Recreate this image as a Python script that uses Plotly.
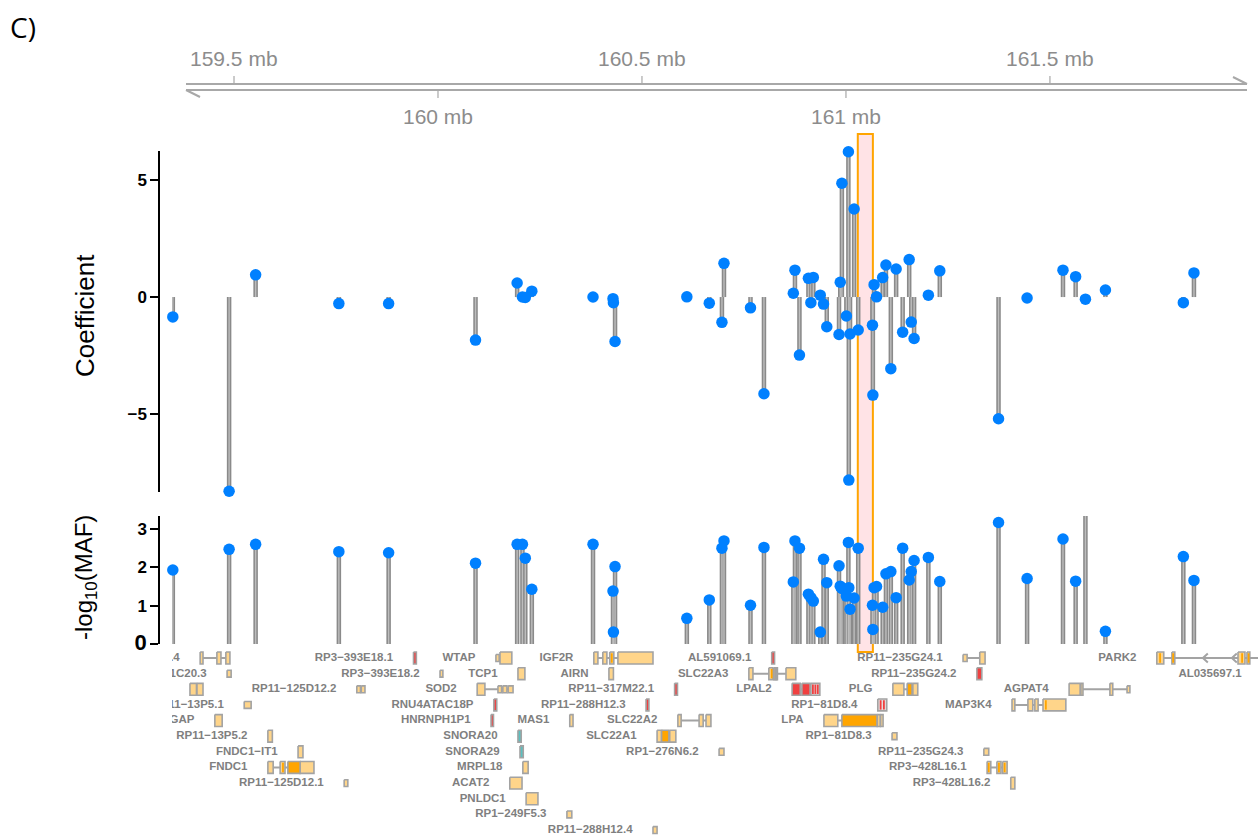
import plotly.graph_objects as go

# ---------------- data ----------------
# variant positions (Mb, chr6) with regression coefficient and -log10(MAF)
var_pos = [159.350, 159.488, 159.553, 159.757, 159.879, 160.092, 160.194, 160.207, 160.214, 160.230,
           160.380, 160.429, 160.430, 160.434, 160.610, 160.665, 160.696, 160.701, 160.766, 160.799,
           160.871, 160.875, 160.886, 160.908, 160.914, 160.920, 160.937, 160.945, 160.953, 160.983,
           160.986, 160.990, 161.001, 161.006, 161.007, 161.010, 161.020, 161.030, 161.065, 161.066,
           161.069, 161.075, 161.090, 161.098, 161.110, 161.123, 161.139, 161.155, 161.160, 161.167,
           161.202, 161.230, 161.374, 161.444, 161.532, 161.563, 161.587, 161.636, 161.827, 161.853]
coef = [-0.85, -8.3, 0.95, -0.28, -0.28, -1.84, 0.6, 0.0, -0.02, 0.25,
        0.0, -0.07, -0.24, -1.9, 0.01, -0.26, -1.08, 1.44, -0.46, -4.13,
        0.16, 1.15, -2.48, 0.8, -0.24, 0.84, 0.08, -0.3, -1.27, -1.6,
        0.63, 4.86, -0.81, 6.21, -7.82, -1.58, 3.76, -1.41, -1.2, -4.19,
        0.53, 0.01, 0.83, 1.37, -3.06, 1.2, -1.5, 1.6, -1.07, -1.77,
        0.08, 1.12, -5.2, -0.04, 1.15, 0.87, -0.09, 0.3, -0.24, 1.03]
maf = [1.93, 2.47, 2.60, 2.41, 2.38, 2.11, 2.60, 2.60, 2.24, 1.43,
       2.60, 1.38, 0.31, 2.02, 0.67, 1.15, 2.50, 2.69, 1.01, 2.52,
       1.62, 2.69, 2.50, 1.30, 1.21, 1.12, 0.31, 2.21, 1.60, 2.04,
       1.51, 1.45, 1.25, 2.65, 1.47, 0.91, 1.20, 2.50, 1.01, 0.38,
       1.47, 1.50, 0.96, 1.83, 1.89, 1.21, 2.50, 1.67, 1.89, 2.18,
       2.26, 1.63, 3.17, 1.71, 2.74, 1.64, 3.35, 0.33, 2.28, 1.66]

highlight_region = [161.029, 161.066]

axis_ticks = [159.5, 160.0, 160.5, 161.0, 161.5]
axis_labels = ["159.5 mb", "160 mb", "160.5 mb", "161 mb", "161.5 mb"]

coef_ticks = [-5, 0, 5]
maf_ticks = [0, 1, 2, 3]

# gene models: name, row, exons (start, end, kind)
gene_names = ["RP11\u221213P5.4", "RP3\u2212393E18.1", "WTAP", "IGF2R", "AL591069.1", "RP11\u2212235G24.1", "PARK2",
              "RP11\u2212361C20.3", "RP3\u2212393E18.2", "TCP1", "AIRN", "SLC22A3", "RP11\u2212235G24.2", "AL035697.1",
              "RSPH3", "RP11\u2212125D12.2", "SOD2", "RP11\u2212317M22.1", "LPAL2", "PLG", "AGPAT4",
              "RP11\u221213P5.1", "RNU4ATAC18P", "RP11\u2212288H12.3", "RP1\u221281D8.4", "MAP3K4",
              "TAGAP", "HNRNPH1P1", "MAS1", "SLC22A2", "LPA",
              "RP11\u221213P5.2", "SNORA20", "SLC22A1", "RP1\u221281D8.3",
              "FNDC1\u2212IT1", "SNORA29", "RP1\u2212276N6.2", "RP11\u2212235G24.3",
              "FNDC1", "MRPL18", "RP3\u2212428L16.1",
              "RP11\u2212125D12.1", "ACAT2", "RP3\u2212428L16.2",
              "PNLDC1", "RP1\u2212249F5.3", "RP11\u2212288H12.4"]
gene_rows = [1, 1, 1, 1, 1, 1, 1,
             2, 2, 2, 2, 2, 2, 2,
             3, 3, 3, 3, 3, 3, 3,
             4, 4, 4, 4, 4,
             5, 5, 5, 5, 5,
             6, 6, 6, 6,
             7, 7, 7, 7,
             8, 8, 8,
             9, 9, 9,
             10, 11, 12]
gene_exons = [
    [(159.417, 159.424, 'L'), (159.458, 159.468, 'L'), (159.480, 159.490, 'L')],
    [(159.940, 159.947, 'R')],
    [(160.142, 160.150, 'l'), (160.152, 160.181, 'L')],
    [(160.382, 160.392, 'L'), (160.404, 160.414, 'L'), (160.421, 160.431, 'L'), (160.426, 160.426, 'o'),
     (160.441, 160.527, 'L')],
    [(160.818, 160.825, 'R')],
    [(161.287, 161.297, 'l'), (161.328, 161.341, 'L')],
    [(161.762, 161.779, 'L'), (161.770, 161.770, 'o'), (161.799, 161.806, 'L'), (161.802, 161.802, 'o'),
     (161.961, 161.978, 'L'), (161.971, 161.971, 'o'), (161.983, 161.990, 'L'), (161.987, 161.987, 'o'),
     (162.060, 162.070, 'L')],
    [(159.483, 159.493, 'l')],
    [(160.005, 160.012, 'l')],
    [(160.196, 160.213, 'L')],
    [(160.419, 160.430, 'L')],
    [(160.762, 160.772, 'L'), (160.811, 160.821, 'L'), (160.818, 160.818, 'o'), (160.823, 160.832, 'L'),
     (160.826, 160.830, 'O'), (160.853, 160.877, 'L')],
    [(161.321, 161.333, 'R')],
    [(162.020, 162.030, 'L')],
    [(159.392, 159.408, 'L'), (159.409, 159.424, 'L')],
    [(159.801, 159.810, 'l'), (159.812, 159.821, 'l')],
    [(160.096, 160.115, 'L'), (160.147, 160.156, 'l'), (160.159, 160.169, 'l'), (160.172, 160.184, 'l')],
    [(160.580, 160.587, 'R')],
    [(160.868, 160.888, 'R'), (160.892, 160.912, 'R'), (160.914, 160.936, 'W'),
     (160.919, 160.919, 'r'), (160.925, 160.925, 'r'), (160.931, 160.931, 'r')],
    [(161.115, 161.142, 'L'), (161.150, 161.162, 'O'), (161.164, 161.176, 'L')],
    [(161.547, 161.574, 'L'), (161.576, 161.581, 'L'), (161.647, 161.654, 'L'), (161.689, 161.696, 'l')],
    [(159.525, 159.542, 'l')],
    [(160.137, 160.144, 'R')],
    [(160.510, 160.517, 'R')],
    [(161.078, 161.100, 'W'), (161.085, 161.085, 'r'), (161.093, 161.093, 'r')],
    [(161.407, 161.414, 'L'), (161.446, 161.458, 'L'), (161.463, 161.471, 'L'), (161.483, 161.539, 'L'),
     (161.490, 161.490, 'o')],
    [(159.453, 159.471, 'L')],
    [(160.130, 160.136, 'R')],
    [(160.323, 160.331, 'L')],
    [(160.588, 160.596, 'L'), (160.640, 160.650, 'L'), (160.657, 160.669, 'L')],
    [(160.946, 160.980, 'L'), (160.990, 161.076, 'O'), (161.077, 161.084, 'L'), (161.085, 161.091, 'L')],
    [(159.583, 159.594, 'L')],
    [(160.196, 160.204, 'T')],
    [(160.537, 160.548, 'L'), (160.548, 160.566, 'O'), (160.568, 160.583, 'L')],
    [(161.113, 161.125, 'l')],
    [(159.657, 159.669, 'L')],
    [(160.201, 160.209, 'T')],
    [(160.689, 160.701, 'l')],
    [(161.338, 161.350, 'l')],
    [(159.583, 159.596, 'L'), (159.613, 159.625, 'L'), (159.620, 159.620, 'o'), (159.632, 159.662, 'O'),
     (159.662, 159.696, 'L')],
    [(160.208, 160.221, 'L')],
    [(161.346, 161.355, 'L'), (161.350, 161.350, 'o'), (161.370, 161.380, 'L'), (161.375, 161.375, 'o'),
     (161.384, 161.395, 'L'), (161.389, 161.389, 'o')],
    [(159.770, 159.779, 'l')],
    [(160.176, 160.206, 'L')],
    [(161.404, 161.414, 'L')],
    [(160.216, 160.245, 'L')],
    [(160.316, 160.328, 'l')],
    [(160.527, 160.537, 'l')],
]
park2_arrows = [161.875, 161.946]

# ---------------- layout constants ----------------
W, H = 1258, 837
def pyf(px):
    return 1 - px / H
def pxf(px):
    return px / W

X_RANGE = [159.348, 162.010]
COEF_RANGE = [-8.33, 6.24]
MAF_RANGE = [0, 3.34]
GENE_RANGE = [12.445, 0.4885]

STEM_DARK = "#8a8a8a"
STEM_LIGHT = "#bdbdbd"
DOT = "rgb(0,128,255)"
GENE_BORDER = "#a3a3a3"
KIND_FILL = {'L': "#FFD58A", 'l': "#FFD58A", 'O': "#FFA500", 'R': "#F04040", 'T': "#5BC0C0", 'W': "#e4dcdc"}
LINE_COLOR = {'o': "#FFA500", 'r': "#F04040"}

fig = go.Figure()

def stems(vals):
    xs, ys = [], []
    for p, v in zip(var_pos, vals):
        xs += [p, p, None]
        ys += [0, v, None]
    return xs, ys

for vals, yax in ((coef, "y"), (maf, "y2")):
    xs, ys = stems(vals)
    fig.add_trace(go.Scatter(x=xs, y=ys, mode="lines", yaxis=yax, cliponaxis=False,
                             line=dict(color=STEM_DARK, width=4.5), hoverinfo="skip", showlegend=False))
    fig.add_trace(go.Scatter(x=xs, y=ys, mode="lines", yaxis=yax, cliponaxis=False,
                             line=dict(color=STEM_LIGHT, width=1.4), hoverinfo="skip", showlegend=False))
    fig.add_trace(go.Scatter(x=var_pos, y=vals, mode="markers", yaxis=yax, cliponaxis=False,
                             marker=dict(color=DOT, size=11.5, line=dict(width=0)), showlegend=False))

# ---- gene track ----
ix, iy = [], []
for exons, row in zip(gene_exons, gene_rows):
    s = min(e[0] for e in exons)
    e_ = max(e[1] for e in exons)
    ix += [s, e_, None]
    iy += [row, row, None]
fig.add_trace(go.Scatter(x=ix, y=iy, mode="lines", yaxis="y3", line=dict(color=GENE_BORDER, width=2),
                         hoverinfo="skip", showlegend=False))

cx, cy = [], []
park_row = gene_rows[gene_names.index("PARK2")]
for a in park2_arrows:
    cx += [a + 0.012, a, a + 0.012, None]
    cy += [park_row - 0.28, park_row, park_row + 0.28, None]
fig.add_trace(go.Scatter(x=cx, y=cy, mode="lines", yaxis="y3", line=dict(color=GENE_BORDER, width=2),
                         hoverinfo="skip", showlegend=False))

for kind in ['L', 'l', 'W', 'O', 'R', 'T']:
    bx, by = [], []
    h = 0.22 if kind == 'l' else 0.38
    for exons, row in zip(gene_exons, gene_rows):
        for s, e, k in exons:
            if k == kind:
                bx += [s, e, e, s, s, None]
                by += [row - h, row - h, row + h, row + h, row - h, None]
    if bx:
        fig.add_trace(go.Scatter(x=bx, y=by, mode="lines", fill="toself", fillcolor=KIND_FILL[kind],
                                 yaxis="y3", line=dict(color=GENE_BORDER, width=1.6),
                                 hoverinfo="skip", showlegend=False))
for kind in ['o', 'r']:
    lx, ly = [], []
    for exons, row in zip(gene_exons, gene_rows):
        for s, e, k in exons:
            if k == kind:
                lx += [s, s, None]
                ly += [row - 0.3, row + 0.3, None]
    fig.add_trace(go.Scatter(x=lx, y=ly, mode="lines", yaxis="y3", line=dict(color=LINE_COLOR[kind], width=1.8),
                             hoverinfo="skip", showlegend=False))

LABEL_GAP = 0.050
lab_x = [min(e[0] for e in ex) - LABEL_GAP for ex in gene_exons]
fig.add_trace(go.Scatter(x=lab_x, y=gene_rows, mode="text", text=gene_names, yaxis="y3",
                         textposition="middle left", cliponaxis=True,
                         textfont=dict(family="Liberation Sans, Arial", size=11.5, color="#7f7f7f", weight="bold"),
                         hoverinfo="skip", showlegend=False))

# ---- highlight ----
fig.add_shape(type="rect", xref="x", yref="paper", x0=highlight_region[0], x1=highlight_region[1],
              y0=pyf(652), y1=pyf(134), fillcolor="#FFE3E6", line=dict(color="#FFA500", width=2), layer="below")

# ---- top genome axis ----
AX_GRAY = "#a8a8a8"
for ypix in (84, 90):
    fig.add_shape(type="line", xref="paper", yref="paper", x0=pxf(186), x1=pxf(1247), y0=pyf(ypix), y1=pyf(ypix),
                  line=dict(color=AX_GRAY, width=2))
fig.add_shape(type="line", xref="paper", yref="paper", x0=pxf(1247), x1=pxf(1233), y0=pyf(84), y1=pyf(77),
              line=dict(color=AX_GRAY, width=2))
fig.add_shape(type="line", xref="paper", yref="paper", x0=pxf(186), x1=pxf(200), y0=pyf(90), y1=pyf(97),
              line=dict(color=AX_GRAY, width=2))
for i, (t, lab) in enumerate(zip(axis_ticks, axis_labels)):
    up = (i % 2 == 0)
    fig.add_shape(type="line", xref="x", yref="paper", x0=t, x1=t,
                  y0=pyf(84) if up else pyf(90), y1=pyf(76) if up else pyf(98),
                  line=dict(color=AX_GRAY, width=1.2))
    fig.add_annotation(x=t, xref="x", yref="paper", y=pyf(58) if up else pyf(117), text=lab, showarrow=False,
                       xanchor="center", yanchor="middle",
                       font=dict(family="Liberation Sans, Arial", size=21, color="#8c8c8c"))

# ---- titles ----
fig.add_annotation(x=pxf(8), y=pyf(27), xref="paper", yref="paper", text="C)", showarrow=False,
                   xanchor="left", yanchor="middle", font=dict(family="Open Sans, Liberation Sans", size=28, color="black"))
fig.add_annotation(x=pxf(85), y=pyf(316), xref="paper", yref="paper", text="Coefficient", textangle=-90,
                   xanchor="center", yanchor="middle",
                   showarrow=False, font=dict(family="Liberation Sans, Arial", size=26, color="black"))
fig.add_annotation(x=pxf(85), y=pyf(578), xref="paper", yref="paper", text="-log<sub>10</sub>(MAF)", textangle=-90,
                   xanchor="center", yanchor="middle",
                   showarrow=False, font=dict(family="Liberation Sans, Arial", size=24, color="black"))

yax_common = dict(anchor="free", position=pxf(159), side="left", showline=True, linecolor="black", linewidth=1.5,
                  ticks="outside", ticklen=8, tickwidth=1.5, tickcolor="black", showgrid=False, zeroline=False,
                  automargin=False,
                  tickfont=dict(family="Liberation Sans, Arial", size=17, color="black", weight="bold"))

fig.update_layout(
    width=W, height=H, autosize=False, margin=dict(l=0, r=0, t=0, b=0, pad=0),
    paper_bgcolor="white", plot_bgcolor="rgba(0,0,0,0)",
    xaxis=dict(domain=[pxf(172), 1], range=X_RANGE, visible=False, fixedrange=True, automargin=False),
    yaxis=dict(domain=[pyf(492), pyf(151)], range=COEF_RANGE, tickvals=coef_ticks,
               ticktext=["\u22125", "0", "5"], **yax_common),
    yaxis2=dict(domain=[pyf(644), pyf(516)], range=MAF_RANGE, tickvals=maf_ticks,
                ticktext=["<span style='font-size:22px'>0</span>", "1", "2", "3"], **yax_common),
    yaxis3=dict(domain=[0, pyf(650)], range=GENE_RANGE, visible=False, automargin=False),
    showlegend=False,
)

fig.write_html("out.html", config={"responsive": False, "displayModeBar": False})
